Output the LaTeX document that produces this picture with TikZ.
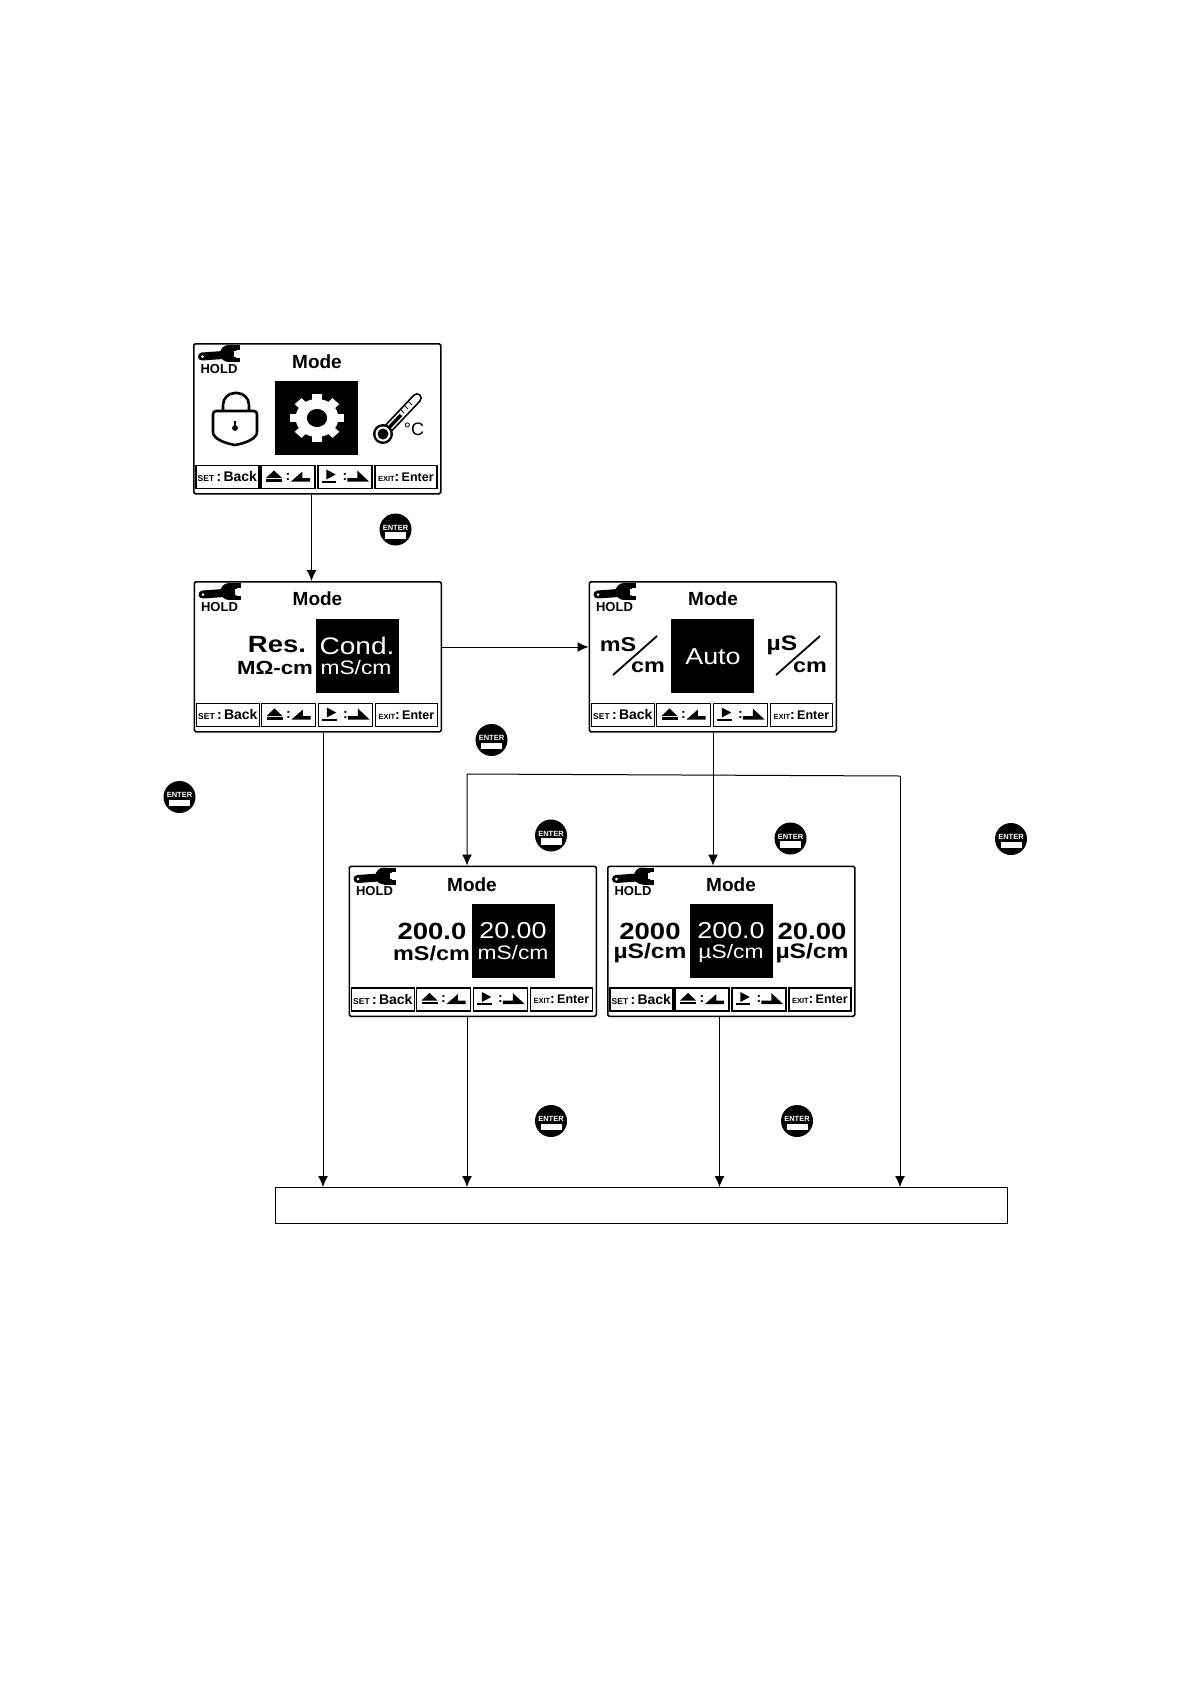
\documentclass[tikz,border=0pt]{standalone}
\usepackage{fontspec}
\setmainfont{Liberation Sans}
\newfontfamily\wideface[FakeStretch=1.17]{Liberation Sans}
\usetikzlibrary{arrows.meta}

\tikzset{
  screenbox/.style={draw,line width=1.5pt,rounded corners=1.5pt,minimum width=247,minimum height=150,inner sep=0,anchor=north west},
  keybox/.style={draw,line width=1.7pt,minimum height=23,inner sep=0,anchor=north west,font=\bfseries\fontsize{14}{14}\selectfont},
  hibox/.style={fill=black,minimum width=83,minimum height=74,inner sep=0,anchor=north west},
  titletext/.style={inner sep=0,font=\bfseries\fontsize{19}{19}\selectfont},
  holdtext/.style={inner sep=0,font=\bfseries\fontsize{13}{13}\selectfont},
  bigtext/.style={inner sep=0,font=\wideface\bfseries\fontsize{23.5}{24}\selectfont},
  unittext/.style={inner sep=0,font=\wideface\bfseries\fontsize{20}{20}\selectfont},
  microtext/.style={inner sep=0,font=\wideface\bfseries\fontsize{21}{21}\selectfont},
  hitext/.style={inner sep=0,text=white,font=\wideface\fontsize{23}{24}\selectfont},
  hiunit/.style={inner sep=0,text=white,font=\wideface\fontsize{19.5}{20}\selectfont},
  enterdisc/.style={circle,fill=black,minimum size=32,inner sep=0},
  entertext/.style={inner sep=0,text=white,font=\bfseries\fontsize{7.5}{8}\selectfont},
  flow/.style={->,line width=1pt,>={Latex[length=11pt,width=10pt]}}
}

\newcommand{\modeScreen}[5]{%
  \begin{scope}[shift={(#2,#3)}]
    \node[screenbox] (#1) at (0,0) {};
    \draw[line width=8pt,line cap=round] (9,13.5) -- (30,12);
    \fill (35.5,10.5) circle[radius=8.5];
    \fill (35.5,2) rectangle (47,6.5);
    \fill (35.5,14.5) rectangle (47,19);
    \fill[white] (41,7.5) rectangle (48,13.5);
    \fill[white] (9.5,13.5) circle[radius=1.5];
    \node[holdtext] (#1hold) at (26,26) {HOLD};
    \node[titletext] (#1title) at (#4,#5) {Mode};
    \node[keybox,minimum width=63] (#1k1) at (2,121.5) {{\fontsize{8.5}{9}\selectfont SET}\,:\,Back};
    \node[keybox,minimum width=54] (#1k2) at (67,121.5) {:};
    \node[keybox,minimum width=54] (#1k3) at (124,121.5) {:};
    \node[keybox,minimum width=62] (#1k4) at (181,121.5) {{\fontsize{7.5}{8}\selectfont EXIT}:\,{\fontsize{12.5}{13}\selectfont Enter}};
    \fill (73,135) -- (81,127.5) -- (89,135) -- cycle;
    \fill (73,136) rectangle (89,138.5);
    \fill (98,138.5) -- (109.4,128.5) -- (109.4,135) -- (117,135) -- (117,138.5) -- cycle;
    \fill (133.3,126.5) -- (142.7,131.5) -- (133.3,136.5) -- cycle;
    \fill (128.7,137.5) rectangle (143.3,139.5);
    \fill (154.3,135) -- (164.3,135) -- (164.3,127.5) -- (176,138.5) -- (154.3,138.5) -- cycle;
  \end{scope}
}

\begin{document}
\begin{tikzpicture}[x=1pt,y=-1pt]
  \path[fill=white,use as bounding box] (0,0) rectangle (1190,1684);

  \modeScreen{scrMain}{193}{343}{124}{19}
  \modeScreen{scrType}{193.5}{581}{124}{18}
  \modeScreen{scrUnit}{588.5}{581}{124.5}{18}
  \modeScreen{scrMilli}{348.5}{865.5}{123.5}{19.5}
  \modeScreen{scrMicro}{607}{865.5}{124}{19.5}

  \node[draw,line width=.7pt,minimum width=732,minimum height=36,inner sep=0,anchor=north west] (bar) at (275,1187) {};

  \begin{scope}[shift={(193,343)}]
    \node[hibox] (mainHi) at (82,38) {};
    \draw[line width=2.6pt,rounded corners=3pt] (42,102) .. controls (30,100) and (20,95) .. (20,86) -- (20,68) -- (64,68) -- (64,86) .. controls (64,95) and (54,100) .. (42,102);
    \draw[line width=2.6pt,rounded corners=12pt] (30,68) -- (30,50) -- (56,50) -- (56,68);
    \fill (42,85) circle[radius=2.9];
    \draw[line width=1.8pt] (42,85) -- (42,78);
    \begin{scope}[shift={(124,75)},xscale=1.07,yscale=.95]
      \foreach \toothAng in {0,45,90,135}
        \fill[white,rotate=\toothAng] (-4.5,-25) rectangle (4.5,25);
      \fill[white] (0,0) circle[radius=20];
      \fill[black] (0,0) circle[radius=9.5];
    \end{scope}
    \draw[line width=10pt,line cap=round] (190,91) -- (224,55);
    \draw[white,line width=6.5pt,line cap=round] (190,91) -- (224,55);
    \draw[line width=3.5pt] (190,91) -- (208,72);
    \draw[line width=1pt] (207,66) -- (211,70) (211,62) -- (215,66) (215,58) -- (219,62);
    \fill (190,91) circle[radius=10];
    \fill[white] (190,91) circle[radius=7.5];
    \fill (190,91) circle[radius=5.5];
    \node[inner sep=0,font=\fontsize{18}{18}\selectfont] (mainDeg) at (221,86) {°C};
  \end{scope}

  \node[hibox] (typeHi) at (316,619) {};
  \node[bigtext] (typeRes) at (277,645) {Res.};
  \node[unittext,font=\wideface\bfseries\fontsize{19}{19}\selectfont] (typeOhm) at (275,668) {MΩ-cm};
  \node[hitext,font=\wideface\fontsize{24}{24}\selectfont] (typeCond) at (357,646) {Cond.};
  \node[hiunit] (typeCondU) at (356,668) {mS/cm};

  \node[hibox] (unitHi) at (671,619) {};
  \node[hitext] (unitAuto) at (713,657) {Auto};
  \node[unittext] (unitMs) at (618,645) {mS};
  \node[unittext] (unitMsC) at (648,667) {cm};
  \draw[line width=1.8pt] (613,675) -- (657,636);
  \node[microtext] (unitUs) at (782,645) {µS};
  \node[unittext] (unitUsC) at (810,667) {cm};
  \draw[line width=1.8pt] (776,675) -- (820,636);

  \node[hibox] (milliHi) at (472,904) {};
  \node[bigtext] (milliA) at (432,931) {200.0};
  \node[unittext] (milliAU) at (431.5,953) {mS/cm};
  \node[hitext] (milliB) at (513,931) {20.00};
  \node[hiunit] (milliBU) at (513,953) {mS/cm};

  \node[hibox] (microHi) at (690,904) {};
  \node[bigtext] (microA) at (650,931) {2000};
  \node[microtext] (microAU) at (650,953) {µS/cm};
  \node[hitext] (microB) at (731,931) {200.0};
  \node[hiunit] (microBU) at (731,953) {µS/cm};
  \node[bigtext] (microC) at (812,931) {20.00};
  \node[microtext] (microCU) at (812,953) {µS/cm};

  \foreach \btnName/\btnX/\btnY in {btnA/395.5/529.5,btnB/491.5/740,btnC/179.5/797,btnD/551/835.5,btnE/790.5/838.5,btnF/1011/839,btnG/551/1121,btnH/797/1121} {
    \node[enterdisc] (\btnName) at (\btnX,\btnY) {};
    \node[entertext] (\btnName txt) at ([shift={(0,-2)}]\btnName) {ENTER};
    \fill[white] ([shift={(-10.5,2.5)}]\btnName.center) rectangle ([shift={(10.5,9)}]\btnName.center);
  }

  \coordinate (branchL) at (467,774);
  \coordinate (branchR) at (900,776);

  \draw[flow] (311.5,0 |- scrMain.south) -- (311.5,0 |- scrType.north);
  \draw[flow] (scrType.east |- 0,647) -- (scrUnit.west |- 0,647);
  \draw[flow] (323,0 |- scrType.south) -- (323,0 |- bar.north);
  \draw[flow] (713,0 |- scrUnit.south) -- (713,0 |- scrMicro.north);
  \draw[flow] (branchR) -- (branchL) -- (branchL |- scrMilli.north);
  \draw[flow] (branchR) -- (branchR |- bar.north);
  \draw[flow] (467,0 |- scrMilli.south) -- (467,0 |- bar.north);
  \draw[flow] (719.5,0 |- scrMicro.south) -- (719.5,0 |- bar.north);
\end{tikzpicture}
\end{document}
